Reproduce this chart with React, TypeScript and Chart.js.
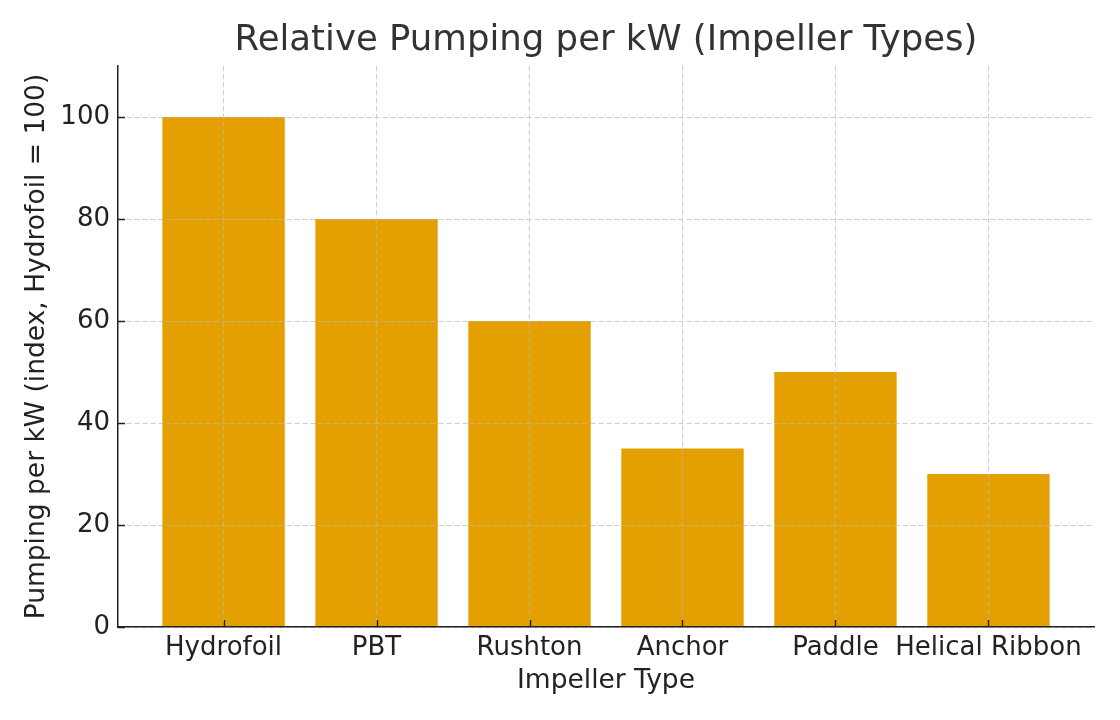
import React, { useEffect, useRef } from "react";
import { Chart, registerables } from "chart.js";

Chart.register(...registerables);

const categories = ["Hydrofoil", "PBT", "Rushton", "Anchor", "Paddle", "Helical Ribbon"];
const values = [100, 80, 60, 35, 50, 30];
const yTicks = [0, 20, 40, 60, 80, 100];
const titleText = "Relative Pumping per kW (Impeller Types)";
const xTitle = "Impeller Type";
const yTitle = "Pumping per kW (index, Hydrofoil = 100)";

const FONT = "'DejaVu Sans', sans-serif";

const titlePlugin = {
  id: "centeredTitle",
  afterDraw(chart: any) {
    const { ctx, chartArea } = chart;
    ctx.save();
    ctx.font = `35.5px ${FONT}`;
    ctx.fillStyle = "#333333";
    ctx.textAlign = "center";
    ctx.textBaseline = "middle";
    ctx.fillText(titleText, (chartArea.left + chartArea.right) / 2, 41);
    ctx.restore();
  },
};

// inward tick marks, placed from the scales' own ticks
const innerTicksPlugin = {
  id: "innerTicks",
  afterDraw(chart: any) {
    const { ctx, chartArea, scales } = chart;
    const len = 7;
    ctx.save();
    ctx.strokeStyle = "#222222";
    ctx.lineWidth = 1.4;
    ctx.beginPath();
    for (const t of scales.x.ticks) {
      const px = Math.round(scales.x.getPixelForValue(t.value)) + 0.5;
      ctx.moveTo(px, chartArea.bottom);
      ctx.lineTo(px, chartArea.bottom - len);
    }
    for (const t of scales.y.ticks) {
      const py = Math.round(scales.y.getPixelForValue(t.value)) + 0.5;
      ctx.moveTo(chartArea.left, py);
      ctx.lineTo(chartArea.left + len, py);
    }
    ctx.stroke();
    ctx.restore();
  },
};

export default function App() {
  const ref = useRef<HTMLCanvasElement>(null);
  useEffect(() => {
    document.body.style.margin = "0";
    const gridCommon = {
      color: "rgba(185,185,185,0.7)",
      lineWidth: 1,
      drawTicks: false,
      offset: false,
      z: 1,
    };
    const border = { display: true, color: "#222222", width: 1.5, dash: [5, 3], z: 2 };
    const chart = new Chart(ref.current!, {
      type: "bar",
      data: {
        datasets: [
          {
            data: values.map((v, i) => ({ x: i, y: v })),
            backgroundColor: "#E3A000",
            borderWidth: 0,
            categoryPercentage: 1,
            barPercentage: 0.8,
          },
        ],
      },
      options: {
        animation: false,
        responsive: false,
        layout: { padding: { top: 66, right: 26, bottom: 0, left: 0 } },
        plugins: { legend: { display: false }, tooltip: { enabled: false }, title: { display: false } },
        scales: {
          x: {
            type: "linear",
            min: -0.69,
            max: 5.69,
            offset: false,
            afterBuildTicks: (scale: any) => {
              scale.ticks = categories.map((_, i) => ({ value: i }));
            },
            afterFit: (scale: any) => {
              scale.height = 93;
            },
            ticks: {
              autoSkip: false,
              maxRotation: 0,
              padding: 6,
              color: "#222222",
              font: { family: FONT, size: 26 },
              callback: (v: any) => categories[v as number] ?? "",
            },
            grid: { ...gridCommon } as any,
            border: border as any,
            title: {
              display: true,
              text: xTitle,
              color: "#222222",
              font: { family: FONT, size: 26.5 },
              padding: { top: 0, bottom: 23 },
            },
          },
          y: {
            type: "linear",
            min: 0,
            max: 110,
            afterBuildTicks: (scale: any) => {
              scale.ticks = yTicks.map((v) => ({ value: v }));
            },
            afterFit: (scale: any) => {
              scale.width = 118;
            },
            ticks: {
              padding: 8,
              color: "#222222",
              font: { family: FONT, size: 26 },
            },
            grid: { ...gridCommon } as any,
            border: border as any,
            title: {
              display: true,
              text: yTitle,
              color: "#222222",
              font: { family: FONT, size: 26.5 },
              padding: { top: 21, bottom: 0 },
            },
          },
        },
      } as any,
      plugins: [titlePlugin, innerTicksPlugin],
    });
    return () => chart.destroy();
  }, []);
  return <canvas ref={ref} width={1120} height={720} style={{ display: "block" }} />;
}
